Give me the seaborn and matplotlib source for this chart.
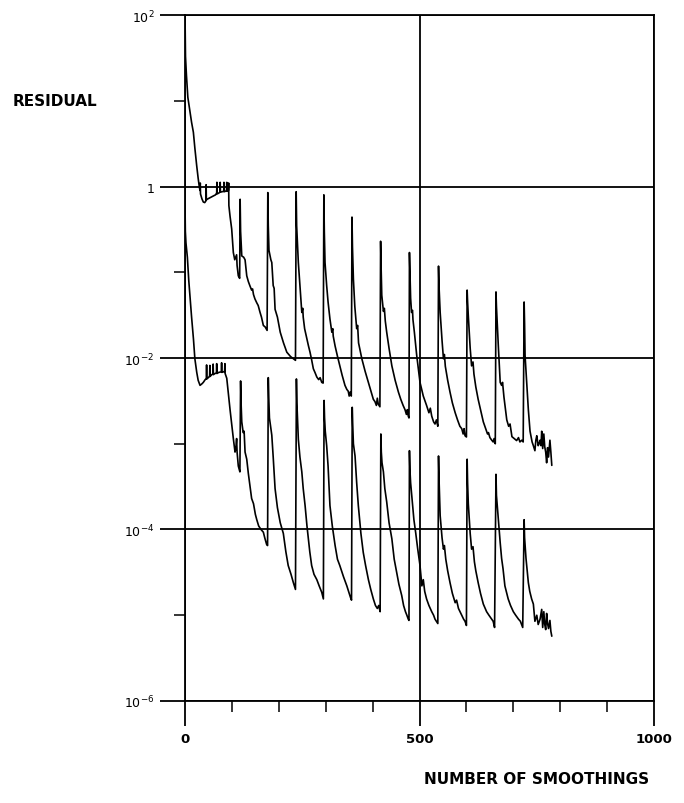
import numpy as np
import pandas as pd
import matplotlib
matplotlib.use("Agg")
import matplotlib.pyplot as plt
from matplotlib.ticker import FixedLocator, NullFormatter
import seaborn as sns

# ---------------- data ----------------
upper_x = [0, 0.5, 1, 3, 6, 10.7, 14, 17.8, 21, 24.9, 28, 30.6, 32, 32.5, 33, 36, 39, 42, 44.5, 45, 45.5,
           49, 53, 57, 61, 65, 67.5, 68, 68.5, 72, 74.5, 75, 75.5, 79, 82.5, 83, 83.5, 86, 88.5, 89, 89.5,
           92.5, 93, 93.5, 96, 99.5, 103, 106, 108, 110, 111, 113.6, 116.5,
           117.5, 118.5, 121, 125, 128, 131.6, 135, 138.6, 142, 144, 146, 149, 153, 156, 160, 163, 167, 171, 175,
           176.5, 177.5, 179, 183, 185, 188, 190, 192, 197, 203, 210, 217, 225, 231, 235.5,
           237, 238, 241.6, 245, 249, 251, 252, 255, 259.5, 263, 266.5, 270, 273.6, 277, 281, 285, 288, 291.5, 294.5,
           296, 297, 298.5, 302, 305, 309, 313, 315, 316, 320, 325, 330, 335, 341, 345, 348, 350, 352, 354.5,
           356, 357, 359, 362, 366, 368, 370, 373, 377, 384, 391, 396, 401.5, 405, 408, 410, 412, 415.5,
           417, 418, 419.5, 423, 425, 427, 430, 435, 441, 448, 455, 460, 465, 469, 472, 474, 476, 477.5,
           478.5, 479.5, 481, 483, 485, 486, 489, 494, 501, 508, 515, 520, 523, 526, 530, 533, 536, 539,
           540.5, 541.5, 544, 548, 551, 553, 555, 560, 565, 570, 576, 581, 586, 590, 593, 595, 597, 600,
           601.5, 602.5, 604, 608, 611, 614, 616, 620, 625, 630, 636, 641, 645, 647, 650, 654, 657, 659, 661.5,
           663, 664, 668, 672, 675, 677, 680, 686, 690, 693, 697, 702, 707, 711, 714, 718, 721,
           723, 724, 725, 728.5, 732, 735.6, 738, 740, 742.7, 746, 748, 750, 753, 755, 757, 759, 760.5, 762.6,
           765, 767, 769, 771, 773, 775, 778, 780, 782]
upper_y = [100, 60, 33, 20, 11, 7.4, 5.6, 4.3, 2.8, 1.75, 1.25, 0.98, 0.9, 1.1, 0.82, 0.72, 0.66, 0.65, 0.68, 1.05, 0.7,
           0.72, 0.74, 0.76, 0.78, 0.8, 0.84, 1.12, 0.82, 0.84, 0.86, 1.12, 0.86, 0.87, 0.88, 1.12, 0.87, 0.88, 0.9, 1.12, 0.88,
           0.9, 1.1, 0.6, 0.45, 0.32, 0.17, 0.14, 0.15, 0.16, 0.12, 0.091, 0.085,
           0.71, 0.3, 0.155, 0.15, 0.14, 0.091, 0.078, 0.069, 0.062, 0.064, 0.055, 0.049, 0.044, 0.041, 0.034, 0.03, 0.024, 0.023, 0.021,
           0.85, 0.35, 0.18, 0.14, 0.13, 0.07, 0.065, 0.037, 0.03, 0.02, 0.015, 0.0117, 0.0104, 0.0098, 0.0094,
           0.87, 0.35, 0.13, 0.07, 0.034, 0.038, 0.03, 0.022, 0.017, 0.014, 0.0117, 0.0095, 0.0075, 0.0068, 0.006, 0.0056, 0.0059, 0.0052, 0.0051,
           0.80, 0.3, 0.13, 0.07, 0.045, 0.0285, 0.02, 0.022, 0.018, 0.0138, 0.0105, 0.0081, 0.0063, 0.0048, 0.0043, 0.0041, 0.0036, 0.004, 0.0036,
           0.44, 0.2, 0.083, 0.04, 0.022, 0.024, 0.015, 0.0125, 0.0098, 0.007, 0.0052, 0.0042, 0.0033, 0.0031, 0.0028, 0.0034, 0.0029, 0.0027,
           0.23, 0.12, 0.054, 0.035, 0.038, 0.027, 0.02, 0.013, 0.0081, 0.0055, 0.004, 0.0033, 0.0028, 0.0025, 0.0022, 0.0025, 0.0021, 0.0020,
           0.17, 0.1, 0.05, 0.034, 0.036, 0.028, 0.02, 0.0107, 0.0052, 0.0036, 0.0028, 0.0023, 0.0026, 0.0021, 0.0018, 0.0017, 0.0019, 0.0016,
           0.118, 0.07, 0.034, 0.016, 0.0098, 0.011, 0.008, 0.0055, 0.004, 0.003, 0.0023, 0.0019, 0.0016, 0.0015, 0.0013, 0.0015, 0.00124, 0.0012,
           0.062, 0.045, 0.031, 0.013, 0.0081, 0.009, 0.0065, 0.0046, 0.0033, 0.0025, 0.0018, 0.0015, 0.0013, 0.00135, 0.00118, 0.0011, 0.00105, 0.00115, 0.001,
           0.059, 0.04, 0.0138, 0.0052, 0.0048, 0.0052, 0.0035, 0.0019, 0.0016, 0.0017, 0.00121, 0.00115, 0.00109, 0.00118, 0.00105, 0.0011, 0.00105,
           0.045, 0.025, 0.0107, 0.0052, 0.0025, 0.0014, 0.0012, 0.00105, 0.00095, 0.00083, 0.0011, 0.00124, 0.00095, 0.001, 0.0011, 0.00095, 0.0014, 0.00088,
           0.0013, 0.00092, 0.0008, 0.0006, 0.0009, 0.0007, 0.0011, 0.0008, 0.00056]

lower_x = [0, 0.7, 2, 5, 8, 11, 14, 18, 21, 25, 28, 32, 36, 39, 43, 45.5, 46, 46.5, 51, 52.5, 53, 53.5,
           57, 59.5, 60, 60.5, 64, 67, 67.5, 68, 72, 77.5, 78, 78.5, 82, 84.5, 85, 85.5, 89, 92, 96, 100,
           103, 106.6, 108.5, 110, 111, 113.6, 117,
           118.5, 119.5, 121, 124, 126, 128, 131.6, 135, 138.6, 142, 146, 150, 153, 157, 162, 167, 170, 174, 176,
           177.5, 178.5, 180, 183, 185, 188, 192, 197, 203, 209.6, 215, 220, 226, 231, 235.5,
           237.5, 238.5, 241.6, 245, 249, 252, 256, 260, 263, 266, 270, 275, 281, 286, 291.5, 295,
           296.5, 297.5, 299, 302, 305, 309, 314, 320, 325, 330, 338, 345, 350, 353, 355,
           356.5, 357.5, 359, 362.5, 366, 369.5, 375, 380, 385, 391, 396, 401.5, 406, 410, 413, 416,
           417.5, 418.5, 420, 423, 426, 430, 435, 441, 446, 451, 456, 462, 466, 470, 473, 476, 477.5,
           478.5, 479.5, 481, 484, 488, 492, 496, 501, 505, 508, 511, 515, 520, 526, 530, 533, 536, 539,
           540.5, 541.5, 544, 548, 551, 553, 556, 560, 565, 570, 576, 579, 583, 590, 594, 597, 600,
           601.5, 602.5, 604, 608, 611, 614, 617, 620, 625, 630, 636, 643, 648, 654, 657, 660,
           663, 664, 668, 672, 675, 678, 682, 689, 694, 700, 705, 711, 715, 720,
           723, 724, 727, 732, 735, 739, 742.7, 746, 750, 753, 757, 760.5, 762.6, 765, 767, 769, 771, 773,
           775, 778, 780, 782]
lower_y = [0.6, 0.3, 0.22, 0.15, 0.08, 0.049, 0.03, 0.0166, 0.0098, 0.0068, 0.0055, 0.0048, 0.005, 0.0052, 0.0056, 0.0058, 0.0083, 0.0057, 0.006, 0.0062, 0.0082, 0.0061,
           0.0064, 0.0065, 0.0085, 0.0064, 0.0066, 0.0067, 0.0086, 0.0066, 0.0068, 0.0069, 0.0088, 0.0068, 0.0069, 0.007, 0.0086, 0.0066, 0.0058, 0.004, 0.0025, 0.0016,
           0.00115, 0.0008, 0.0009, 0.00115, 0.0008, 0.00055, 0.00047,
           0.0054, 0.003, 0.0018, 0.00135, 0.0014, 0.0008, 0.00066, 0.00045, 0.00032, 0.00023, 0.0002, 0.00015, 0.00013, 0.00011, 0.0001, 9.3e-5, 8e-5, 6.7e-5, 6.5e-5,
           0.0059, 0.0035, 0.002, 0.0015, 0.00126, 0.0007, 0.0003, 0.00018, 0.00012, 9e-5, 5.5e-5, 3.8e-5, 3e-5, 2.4e-5, 2.0e-5,
           0.0057, 0.003, 0.00113, 0.0007, 0.00047, 0.0003, 0.00019, 0.00011, 7.8e-5, 5.5e-5, 3.8e-5, 3e-5, 2.6e-5, 2.2e-5, 1.85e-5, 1.55e-5,
           0.0032, 0.002, 0.0014, 9.5e-4, 5.5e-4, 1.9e-4, 1.1e-4, 6.5e-5, 4.5e-5, 3.8e-5, 2.8e-5, 2.2e-5, 1.8e-5, 1.6e-5, 1.5e-5,
           0.00266, 0.0017, 0.001, 7.2e-4, 3.5e-4, 1.9e-4, 9e-5, 5.4e-5, 3.8e-5, 2.6e-5, 2e-5, 1.55e-5, 1.3e-5, 1.2e-5, 1.3e-5, 1.1e-5,
           0.0013, 8e-4, 6e-4, 4.7e-4, 3e-4, 2.1e-4, 1.2e-4, 7.8e-5, 4.5e-5, 3.2e-5, 2.3e-5, 1.7e-5, 1.3e-5, 1.1e-5, 1.0e-5, 9e-6, 8.7e-6,
           8.3e-4, 5e-4, 3.5e-4, 2.3e-4, 1.3e-4, 9e-5, 6e-5, 3.8e-5, 2.2e-5, 2.6e-5, 1.9e-5, 1.55e-5, 1.3e-5, 1.1e-5, 1.0e-5, 9e-6, 8.5e-6, 8e-6,
           7.2e-4, 4e-4, 1.45e-4, 8e-5, 5.9e-5, 6.5e-5, 4.5e-5, 3.3e-5, 2.4e-5, 1.8e-5, 1.4e-5, 1.5e-5, 1.2e-5, 1e-5, 9e-6, 8.5e-6, 7.6e-6,
           6.6e-4, 3.5e-4, 2e-4, 9e-5, 5.9e-5, 6.3e-5, 4.2e-5, 3.3e-5, 2.4e-5, 1.8e-5, 1.35e-5, 1.1e-5, 1.0e-5, 9e-6, 8.5e-6, 7.2e-6,
           4.4e-4, 2.5e-4, 1.3e-4, 7e-5, 4.6e-5, 3.5e-5, 2.2e-5, 1.55e-5, 1.3e-5, 1.1e-5, 1.0e-5, 9e-6, 8.5e-6, 7.2e-6,
           1.3e-4, 8e-5, 4.6e-5, 2.4e-5, 1.9e-5, 1.55e-5, 1.35e-5, 8.5e-6, 1e-5, 7.8e-6, 9e-6, 1.17e-5, 7.2e-6, 1.1e-5, 7.8e-6, 6.8e-6, 1.05e-5, 8e-6,
           7e-6, 8.7e-6, 6.5e-6, 5.7e-6]

x_major = [0, 500, 1000]
x_major_labels = ["0", "500", "1000"]
x_minor = [100, 200, 300, 400, 600, 700, 800, 900]
y_major = [1e-6, 1e-4, 1e-2, 1, 1e2]
y_major_labels = ["$10^{-6}$", "$10^{-4}$", "$10^{-2}$", "1", "$10^{2}$"]
y_minor = [1e-5, 1e-3, 1e-1, 10]

df = pd.concat([
    pd.DataFrame({"n": upper_x, "residual": upper_y, "series": "upper"}),
    pd.DataFrame({"n": lower_x, "residual": lower_y, "series": "lower"}),
], ignore_index=True)

# ---------------- plotting ----------------
sns.set_theme(style="white")
plt.rcParams["font.family"] = ["DejaVu Sans"]
plt.rcParams["text.color"] = "black"
plt.rcParams["xtick.color"] = "black"
plt.rcParams["ytick.color"] = "black"
plt.rcParams["axes.labelcolor"] = "black"

fig = plt.figure(figsize=(6.84, 8.04), dpi=100)
ax = fig.add_axes([0.2705, 0.1269, 0.6857, 0.8531])

sns.lineplot(data=df, x="n", y="residual", hue="series", units="series",
             palette={"upper": "black", "lower": "black"}, estimator=None,
             sort=False, legend=False, lw=1.2, ax=ax)

ax.set_yscale("log")
ax.set_xlim(0, 1000)
ax.set_ylim(1e-6, 1e2)

ax.xaxis.set_major_locator(FixedLocator(x_major))
ax.xaxis.set_minor_locator(FixedLocator(x_minor))
ax.set_xticklabels(x_major_labels, fontsize=9.5, fontweight="bold", color="black")
ax.yaxis.set_major_locator(FixedLocator(y_major))
ax.yaxis.set_minor_locator(FixedLocator(y_minor))
ax.yaxis.set_minor_formatter(NullFormatter())
ax.set_yticklabels(y_major_labels, fontsize=9, color="black")

ax.tick_params(which="major", direction="out", length=18, width=1.3, color="black",
               labelcolor="black", bottom=True, left=True, pad=4)
ax.tick_params(which="minor", direction="out", length=8, width=1.1, color="black",
               bottom=True, left=True)

ax.grid(True, which="major", color="black", lw=1.3)
for s in ax.spines.values():
    s.set_visible(True)
    s.set_color("black")
    s.set_linewidth(1.3)

ax.set_xlabel("")
ax.set_ylabel("")

fig.text(0.081, 0.874, "RESIDUAL", fontsize=11, fontweight="bold", ha="center", va="center", color="black")
fig.text(0.784, 0.030, "NUMBER OF SMOOTHINGS", fontsize=11, fontweight="bold", ha="center", va="center", color="black")

fig.savefig("out.png", dpi=100)
